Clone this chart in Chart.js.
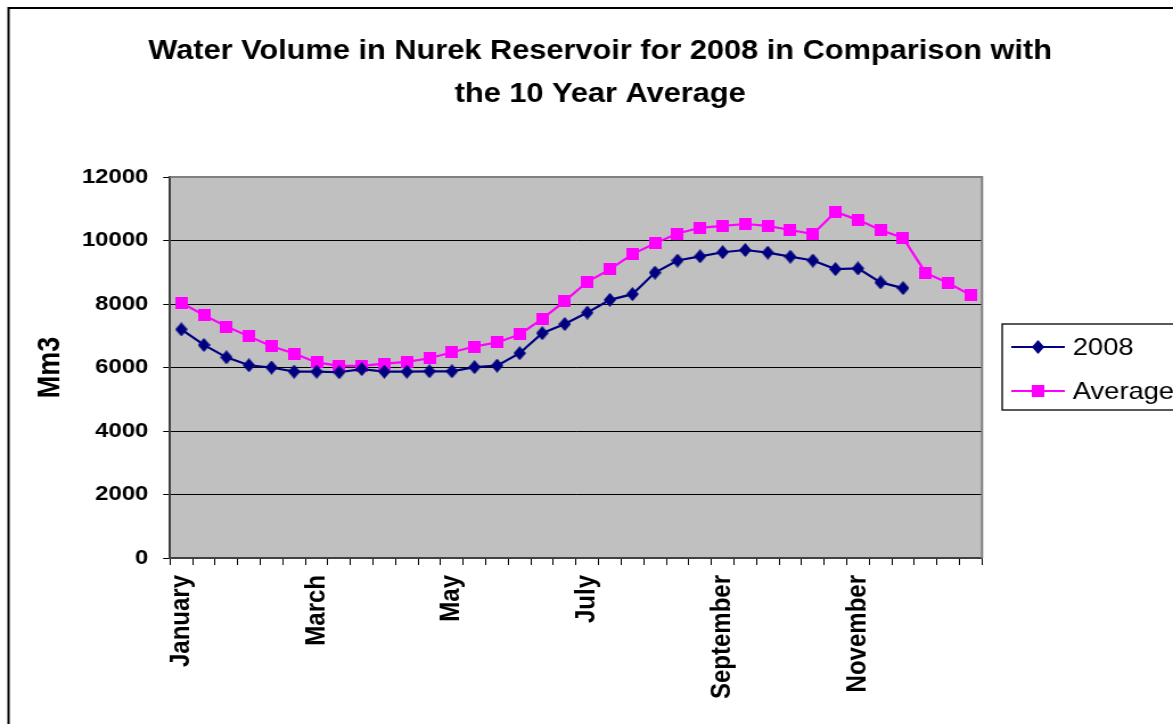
<!DOCTYPE html>
<html>
<head>
<meta charset="utf-8">
<script src="https://cdn.jsdelivr.net/npm/chart.js@4.4.0/dist/chart.umd.min.js"></script>
<style>
  html, body { margin: 0; padding: 0; background: #fff; overflow: hidden; }
  /* the source picture is a bit wider than tall, so stretch the canvas sideways */
  #myChart { display: block; width: 1173px !important; height: 724px !important; }
</style>
</head>
<body>
<canvas id="myChart" width="1030" height="724"></canvas>
<script>
  let months = ["January", "February", "March", "April", "May", "June",
                "July", "August", "September", "October", "November", "December"];
  let decades = ["I", "II", "III"];
  let values2008 = [7200, 6710, 6320, 6070, 6000, 5870, 5870, 5850, 5950, 5870, 5870, 5880,
                    5880, 6010, 6060, 6450, 7080, 7370, 7730, 8130, 8310, 8990, 9370, 9500,
                    9630, 9700, 9620, 9490, 9370, 9100, 9120, 8680, 8500, null, null, null];
  let valuesAverage = [8040, 7650, 7290, 6980, 6670, 6440, 6160, 6050, 6050, 6120, 6180, 6290,
                       6480, 6660, 6790, 7040, 7530, 8090, 8700, 9090, 9570, 9910, 10220, 10400,
                       10460, 10520, 10460, 10330, 10200, 10900, 10650, 10330, 10080, 8980, 8660, 8280];
  let yTicks = [0, 2000, 4000, 6000, 8000, 10000, 12000];

  let labels = [];
  months.forEach(function (m) {
    decades.forEach(function (d) { labels.push(m + " " + d); });
  });

  const FONT = "'Liberation Sans', Arial, sans-serif";

  // markers drawn a little narrow, they get widened again with the canvas
  function makeMarker(kind, color) {
    let c = document.createElement("canvas");
    c.width = 11;
    c.height = kind === "diamond" ? 14 : 12;
    let ctx = c.getContext("2d");
    ctx.fillStyle = color;
    if (kind === "diamond") {
      ctx.beginPath();
      ctx.moveTo(5.5, 0);
      ctx.lineTo(11, 7);
      ctx.lineTo(5.5, 14);
      ctx.lineTo(0, 7);
      ctx.closePath();
      ctx.fill();
    } else {
      ctx.fillRect(0, 0, 11, 12);
    }
    return c;
  }
  let diamond = makeMarker("diamond", "#000080");
  let square = makeMarker("square", "#FF00FF");

  let frame = {
    id: "frame",
    beforeDraw: function (chart) {
      let ctx = chart.ctx, a = chart.chartArea;
      ctx.save();
      ctx.fillStyle = "#fff";
      ctx.fillRect(0, 0, chart.width, chart.height);
      ctx.fillStyle = "#C0C0C0";
      ctx.fillRect(a.left, a.top, a.right - a.left, a.bottom - a.top);
      ctx.strokeStyle = "#000";
      ctx.lineWidth = 2;
      ctx.strokeRect(7.5, 8, chart.width + 20, chart.height + 20);
      ctx.restore();
    },
    afterDraw: function (chart) {
      let ctx = chart.ctx, a = chart.chartArea;
      ctx.save();
      ctx.strokeStyle = "#808080";
      ctx.lineWidth = 2;
      ctx.beginPath();
      ctx.moveTo(a.left, a.top);
      ctx.lineTo(a.right, a.top);
      ctx.lineTo(a.right, a.bottom);
      ctx.stroke();

      // legend
      ctx.strokeStyle = "#222";
      ctx.lineWidth = 1.5;
      ctx.strokeRect(880, 324, 200, 86);
      let items = [
        { text: "2008", color: "#000080", img: diamond, y: 347 },
        { text: "Average", color: "#FF00FF", img: square, y: 391 }
      ];
      items.forEach(function (it) {
        ctx.strokeStyle = it.color;
        ctx.lineWidth = 2;
        ctx.beginPath();
        ctx.moveTo(888, it.y);
        ctx.lineTo(935, it.y);
        ctx.stroke();
        ctx.drawImage(it.img, 911.5 - it.img.width / 2, it.y - it.img.height / 2);
        ctx.fillStyle = "#000";
        ctx.font = "24px " + FONT;
        ctx.textAlign = "left";
        ctx.textBaseline = "middle";
        ctx.fillText(it.text, 942, it.y + 1);
      });
      ctx.restore();
    }
  };

  let mychart = document.getElementById("myChart").getContext("2d");
  let chart = new Chart(mychart, {
    type: "line",
    data: {
      labels: labels,
      datasets: [
        {
          label: "2008",
          data: values2008,
          borderColor: "#000080",
          backgroundColor: "#000080",
          borderWidth: 2.2,
          pointStyle: diamond,
          tension: 0,
          spanGaps: false
        },
        {
          label: "Average",
          data: valuesAverage,
          borderColor: "#FF00FF",
          backgroundColor: "#FF00FF",
          borderWidth: 2.2,
          pointStyle: square,
          tension: 0
        }
      ]
    },
    options: {
      responsive: false,
      animation: false,
      layout: { padding: { left: 24, right: 0, top: 0, bottom: 0 } },
      plugins: {
        legend: { display: false },
        tooltip: { enabled: false },
        title: {
          display: true,
          text: ["Water Volume in Nurek Reservoir for 2008 in Comparison with", "the 10 Year Average"],
          color: "#000",
          font: { family: FONT, size: 27, weight: "bold", lineHeight: 43 / 27 },
          padding: { top: 30, bottom: 61 }
        }
      },
      scales: {
        x: {
          offset: true,
          grid: { offset: true, drawOnChartArea: false, drawTicks: true, tickLength: 7, color: "#000" },
          border: { color: "#404040", width: 2 },
          ticks: {
            autoSkip: false,
            minRotation: 90,
            maxRotation: 90,
            padding: 10,
            color: "#000",
            font: { family: FONT, size: 24, weight: "bold" },
            callback: function (value, index) {
              return index % 6 === 0 ? months[index / 3] : "";
            }
          },
          afterFit: function (scale) { scale.height = 166; }
        },
        y: {
          min: 0,
          max: 12000,
          afterBuildTicks: function (scale) {
            scale.ticks = yTicks.map(function (v) { return { value: v }; });
          },
          grid: { color: "#000", lineWidth: 1, tickLength: 6 },
          border: { color: "#404040", width: 2 },
          ticks: {
            padding: 13,
            color: "#000",
            font: { family: FONT, size: 21, weight: "bold" },
            callback: function (value) { return String(value); }
          },
          title: {
            display: true,
            text: "Mm3",
            color: "#000",
            font: { family: FONT, size: 27, weight: "bold" },
            padding: { top: 4, bottom: 0 }
          },
          afterFit: function (scale) { scale.width = 125.3; }
        },
        side: {
          type: "linear",
          position: "right",
          display: true,
          grid: { display: false },
          border: { display: false },
          ticks: { display: false },
          afterFit: function (scale) { scale.width = 167.7; }
        }
      }
    },
    plugins: [frame]
  });
</script>
</body>
</html>
